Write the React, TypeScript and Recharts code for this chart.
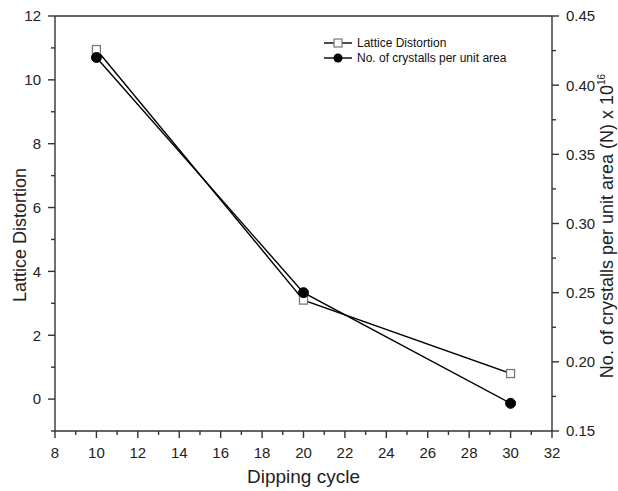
import React from "react";
import { LineChart, Line, XAxis, YAxis, ReferenceLine } from "recharts";

const cycles = [10, 20, 30];
const latticeDistortion = [10.95, 3.1, 0.8];
const crystalsPerArea = [0.42, 0.25, 0.17];

const xTicks = [8, 9, 10, 11, 12, 13, 14, 15, 16, 17, 18, 19, 20, 21, 22, 23, 24, 25, 26, 27, 28, 29, 30, 31, 32];
const xMajor = [8, 10, 12, 14, 16, 18, 20, 22, 24, 26, 28, 30, 32];
const leftTicks = [-1, 0, 1, 2, 3, 4, 5, 6, 7, 8, 9, 10, 11, 12];
const leftMajor = [0, 2, 4, 6, 8, 10, 12];
const rightTicks = [0.15, 0.175, 0.2, 0.225, 0.25, 0.275, 0.3, 0.325, 0.35, 0.375, 0.4, 0.425, 0.45];
const rightMajor = ["0.15", "0.20", "0.25", "0.30", "0.35", "0.40", "0.45"];
const legendLabels = ["Lattice Distortion", "No. of crystalls per unit area"];

const data = cycles.map((c, i) => ({
  cycle: c,
  ld: latticeDistortion[i],
  n: crystalsPerArea[i],
}));

const FONT = "'Liberation Sans', Arial, sans-serif";
const AXIS = "#333";
const TXT = "#222";
const MAJ = 7;
const MIN = 4;

const XTick = (p: any) => {
  const v = p.payload.value;
  const major = xMajor.includes(v);
  return (
    <g>
      <line x1={p.x} x2={p.x} y1={p.y} y2={p.y + (major ? MAJ : MIN)} stroke={AXIS} strokeWidth={1.4} />
      {major && (
        <text x={p.x} y={p.y + 27} textAnchor="middle" fontSize={15} fill={TXT} fontFamily={FONT}>
          {v}
        </text>
      )}
    </g>
  );
};

const LeftTick = (p: any) => {
  const v = p.payload.value;
  const major = leftMajor.includes(v);
  return (
    <g>
      <line x1={p.x - (major ? MAJ : MIN)} x2={p.x} y1={p.y} y2={p.y} stroke={AXIS} strokeWidth={1.4} />
      {major && (
        <text x={p.x - 14} y={p.y} dy="0.36em" textAnchor="end" fontSize={15} fill={TXT} fontFamily={FONT}>
          {v}
        </text>
      )}
    </g>
  );
};

const RightTick = (p: any) => {
  const v = p.payload.value;
  const label = v.toFixed(2);
  const major = rightMajor.includes(label) && Math.abs(v * 20 - Math.round(v * 20)) < 1e-6;
  return (
    <g>
      <line x1={p.x} x2={p.x + (major ? MAJ : MIN)} y1={p.y} y2={p.y} stroke={AXIS} strokeWidth={1.4} />
      {major && (
        <text x={p.x + 14} y={p.y} dy="0.36em" textAnchor="start" fontSize={15} fill={TXT} fontFamily={FONT}>
          {label}
        </text>
      )}
    </g>
  );
};

const SquareDot = (p: any) => {
  if (p.cx == null || p.cy == null) return <g key={p.key} />;
  return (
    <rect key={p.key} x={p.cx - 4} y={p.cy - 4} width={8} height={8} fill="#fff" stroke="#777" strokeWidth={1.3} />
  );
};

const CircleDot = (p: any) => {
  if (p.cx == null || p.cy == null) return <g key={p.key} />;
  return <circle key={p.key} cx={p.cx} cy={p.cy} r={5} fill="#000" stroke="#000" />;
};

const LegendBox = () => (
  <svg width={210} height={36} style={{ position: "absolute", left: 322, top: 34 }}>
    <line x1={2} x2={30} y1={9} y2={9} stroke="#000" strokeWidth={1.4} />
    <rect x={12} y={5} width={8} height={8} fill="#fff" stroke="#777" strokeWidth={1.2} />
    <text x={35} y={13} fontSize={12} fontFamily={FONT} fill="#111">{legendLabels[0]}</text>
    <line x1={2} x2={30} y1={24} y2={24} stroke="#000" strokeWidth={1.4} />
    <circle cx={16} cy={24} r={4.5} fill="#000" />
    <text x={35} y={28} fontSize={12} fontFamily={FONT} fill="#111">{legendLabels[1]}</text>
  </svg>
);

export default function App() {
  return (
    <div style={{ position: "absolute", left: 0, top: 0, width: 618, height: 491, background: "#fff" }}>
      <LineChart width={618} height={491} data={data} margin={{ top: 16, right: 0, bottom: 0, left: 0 }}>
        <XAxis
          dataKey="cycle"
          type="number"
          domain={[8, 32]}
          ticks={xTicks}
          interval={0}
          tickSize={0}
          tickMargin={0}
          tickLine={false}
          tick={<XTick />}
          height={60}
          axisLine={{ stroke: AXIS, strokeWidth: 1.4 }}
          label={{
            content: (props: any) => {
              const vb = props.viewBox;
              return (
                <text x={vb.x + vb.width / 2} y={483} textAnchor="middle" fontSize={19} fill={TXT} fontFamily={FONT}>
                  Dipping cycle
                </text>
              );
            },
          }}
        />
        <YAxis
          yAxisId="left"
          orientation="left"
          type="number"
          domain={[-1, 12]}
          ticks={leftTicks}
          interval={0}
          tickSize={0}
          tickMargin={0}
          tickLine={false}
          tick={<LeftTick />}
          width={55}
          axisLine={{ stroke: AXIS, strokeWidth: 1.4 }}
          label={{
            content: () => (
              <text
                x={20}
                y={235}
                transform="rotate(-90 20 235)"
                textAnchor="middle"
                dominantBaseline="central"
                fontSize={18}
                fill={TXT}
                fontFamily={FONT}
              >
                Lattice Distortion
              </text>
            ),
          }}
        />
        <YAxis
          yAxisId="right"
          orientation="right"
          type="number"
          domain={[0.15, 0.45]}
          ticks={rightTicks}
          interval={0}
          tickSize={0}
          tickMargin={0}
          tickLine={false}
          tick={<RightTick />}
          width={66}
          axisLine={{ stroke: AXIS, strokeWidth: 1.4 }}
          label={{
            content: () => (
              <text
                x={607}
                y={226}
                transform="rotate(-90 607 226)"
                textAnchor="middle"
                dominantBaseline="central"
                fontSize={18}
                fill={TXT}
                fontFamily={FONT}
              >
                No. of crystalls per unit area (N) x 10
                <tspan dy={-6} fontSize={10}>16</tspan>
              </text>
            ),
          }}
        />
        <ReferenceLine yAxisId="left" y={12} stroke={AXIS} strokeWidth={1.4} />
        <Line
          yAxisId="left"
          dataKey="ld"
          stroke="#000"
          strokeWidth={1.4}
          dot={<SquareDot />}
          isAnimationActive={false}
        />
        <Line
          yAxisId="right"
          dataKey="n"
          stroke="#000"
          strokeWidth={1.4}
          dot={<CircleDot />}
          isAnimationActive={false}
        />
      </LineChart>
      <LegendBox />
    </div>
  );
}
